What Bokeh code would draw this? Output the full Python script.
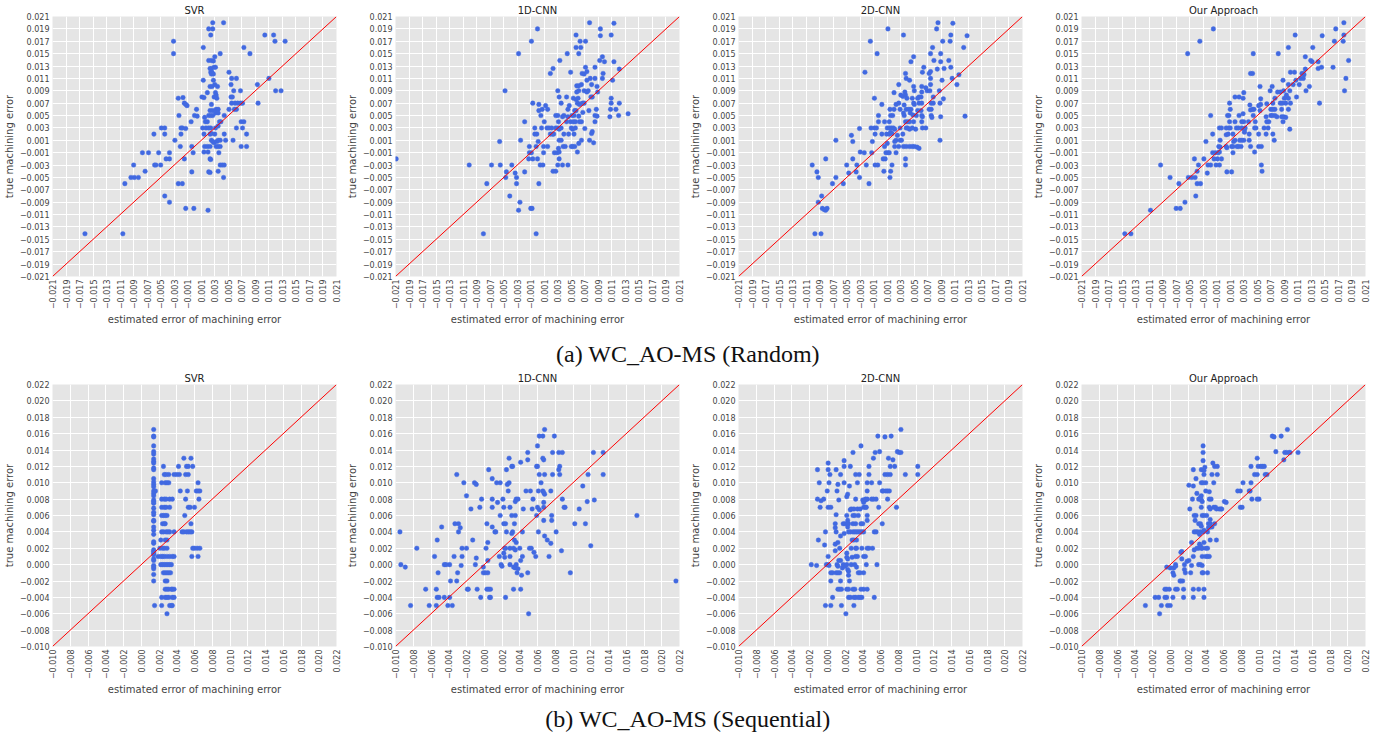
import math
from bokeh.plotting import figure
from bokeh.models import Range1d, FixedTicker, CustomJSTickFormatter, Slope, Label
from bokeh.layouts import column, row
from bokeh.embed import file_html
from bokeh.resources import INLINE

# ---------------- data (values in units of 0.001) ----------------
MILLI = 0.001

titles = ["SVR", "1D-CNN", "2D-CNN", "Our Approach"]
caption_a = "(a) WC_AO-MS (Random)"
caption_b = "(b) WC_AO-MS (Sequential)"
x_label = "estimated error of machining error"
y_label = "true machining error"

ticks_random = [-0.021, -0.019, -0.017, -0.015, -0.013, -0.011, -0.009, -0.007, -0.005, -0.003, -0.001,
                0.001, 0.003, 0.005, 0.007, 0.009, 0.011, 0.013, 0.015, 0.017, 0.019, 0.021]
ticks_seq = [-0.010, -0.008, -0.006, -0.004, -0.002, 0.000, 0.002, 0.004, 0.006, 0.008, 0.010,
             0.012, 0.014, 0.016, 0.018, 0.020, 0.022]
range_random = (-0.021, 0.021)
range_seq = (-0.010, 0.022)

svr_random = [
    (2.7,20),(4.3,20),(2.1,19),(2.7,19),(2.4,18),(10.4,18),(11.7,18),(11.9,17),(13.4,17),(-3.1,17),
    (-3.1,15),(1.3,16),(3.8,15),(7.3,16),(8.2,15),(2.1,13.9),(2.5,13.9),(2.8,13.8),(3.0,14.5),
    (2.3,12.6),(2.5,12.6),(2.9,12.8),(3.1,12.8),(2.4,12),(2.5,11.7),(2.6,12),(2.8,11.7),(5.1,12),
    (5.5,11),(6.2,11),(1.3,10.7),(2.8,10.7),(2.3,9.7),(2.6,9.7),(3.4,9.7),(3.0,10),(5.4,10),
    (5.8,9),(6.8,9),(1.9,8.7),(3.1,8.7),(3.2,8.3),(1.1,8),(1.4,7.9),(2.9,8),(3.3,7.8),
    (9.3,10),(11,11),(12,9),(12.8,9),(9.4,7),(5.4,8),(5.6,8),(5.5,7),(6.0,7),(6.4,7),(6.8,7),(7.1,7),
    (2.5,6.8),(2.3,5.8),(2.7,5.8),(3.2,6),(3.5,6),(3.1,5.4),(3.5,5.4),(0.3,6),(-1.3,6.8),(-1.1,6.6),
    (-2.4,7.8),(-1.7,7.9),(-1.5,7.0),(-2.3,5),(-0.5,4),(0,5),(0.4,4.9),(1.5,4.7),(2.1,5),(2.4,5),(2.7,5),
    (4.4,5),(5.1,6),(5.9,6),(6.2,6),(1.6,4),(1.9,4),(3.7,4),(3.9,4),(6.9,4),(7.3,4),
    (-2.0,3),(-1.8,3),(-1.3,2.9),(-4.9,3),(-4.4,3),(-6,2),(-4.4,2),(-2.0,2),
    (1.2,3),(1.7,3),(2.1,3),(2.4,3),(3.1,3),(3.5,3.3),(1.4,2),(2.3,2),(2.5,2.1),(3,2),(4.4,2),
    (6.2,3),(7.1,3),(7.7,2),(5.7,1),(-2.9,1),(-2.1,0),(-0.4,0),(1.5,0),(1.9,0),(2.3,0),(2.5,1),(2.7,0.8),(2.9,0.6),
    (3.3,0.8),(3.5,1),(3.8,1),(3.2,0),(3.5,0),(3.8,0),(4.6,1),(6.9,0),(7.7,0),
    (-7.7,-1),(-6.8,-1),(-5.3,-1),(-3.7,-1),(-0.2,-1),(1.4,-0.9),(2.0,-0.9),(3.6,-1),
    (-9,-3),(-5.9,-3),(-5.7,-3),(-5,-3),(-4.2,-2),(-3.7,-2),(-1.5,-2),(2.3,-2),(2.4,-2.1),
    (3.8,-3),(4.1,-3),(4.4,-3),(-7.3,-4),(-9.4,-5),(-8.9,-5),(-8.3,-5),(-10.3,-6),
    (-0.4,-4.1),(2.1,-4.1),(2.3,-4.2),(3.5,-4),(4.3,-5),(-2.4,-6),(-1.8,-6),(-4.4,-8),(-3.7,-9),
    (-1.3,-10),(-0.1,-10),(2.0,-10.3),(-16.2,-14.1),(-10.6,-14.1),
]

cnn1d_random = [
    (7.7,20),(11.3,19.9),(0,19),(9.3,19),(5.7,18),(9.3,17.9),(10.9,18),(-0.9,17),(6.3,17),(7.1,17),
    (5.7,16),(6.4,16),(-2.8,15),(4.4,15),(6.1,15),(3.3,13.9),(9.2,13.9),(9.6,14.5),(9.9,13.7),(11.3,13.7),
    (2.3,12.6),(7.1,12.8),(7.3,12.1),(8.5,12.8),(4.9,12),(12.1,12.5),(1.9,11.8),(6.6,11.8),(6.9,11.7),(7.3,10.7),
    (7.8,11),(8.5,11),(9.6,11),(9.7,11.8),(11.1,10.7),(5.8,9.8),(6.1,9.8),(6.5,10),(8.0,10),(8.8,9.7),(8.9,8.8),
    (-4.8,9),(3.0,9),(5.8,8.8),(6.1,9),(6.9,9),(7.3,8.8),(7.5,9),(3.2,8),(4.3,8),(5.3,7.8),(5.7,7.6),(6,7.8),
    (7.9,8),(8.1,8),(10.9,7.8),(-0.7,7),(0.2,6.8),(1.2,6.6),(3.5,7),(4.7,6.6),(5.9,7),(6.2,6.8),(6.4,6.9),(6.7,7),(6.9,7),
    (7.6,5.8),(8.7,6),(10.9,7),(12.1,7),(0.2,5.8),(0.7,6),(1.5,6),(4.5,6),(5.5,5.8),(5.7,5.8),(6.7,5.5),(10.8,6),(11.6,6),
    (0.5,5),(2.7,5),(3.0,5),(3.7,4.8),(3.9,5),(4.5,4.8),(5.1,5),(5.4,5),(6.1,4.9),(8.5,5),(8.8,4.9),(10.7,4.8),(12.0,5),(13.4,5.3),
    (-1.9,4),(1.0,4),(3.1,4),(4.3,4),(4.9,4),(5.3,4),(5.6,4),(6.2,4),(6.5,4),(8.5,4),
    (-0.4,3),(0.6,3),(1.4,3),(1.7,3),(2.1,3),(2.7,3),(3.0,3),(3.2,2.8),(3.5,3),(5.0,3),(5.2,2.8),(5.6,3),(7.0,2.9),
    (-0.4,2),(-0.1,2),(1.9,2),(2.2,2),(2.4,2),(3.9,2),(4.6,2),(5.4,2),(8.0,2.1),(8.1,2.4),
    (-2.5,1),(0.1,0.8),(3.2,1),(3.5,1),(6.1,0.5),(6.5,1),(7.7,1),(8.3,0.6),(-5.6,0.8),
    (-1.2,0),(-0.2,0),(0.9,0),(1.5,0),(3.8,0),(4.1,0),(5.0,0),(5.2,0),(5.5,0),
    (-1.2,-1),(-0.9,-1),(0.9,-1),(2.5,-1),(2.9,-1),(3.2,-0.9),(3.1,-0.3),(5.9,-0.9),
    (-20.9,-2),(-1.3,-2),(-0.7,-2),(0,-2),(3.2,-2),
    (-10.1,-3),(-6.8,-3),(-5.5,-3),(-3.8,-3),(0.4,-3),(0.8,-3),(3.0,-3),(3.7,-3),(4.5,-3),
    (-4.6,-4.1),(-3.3,-4.3),(-1.9,-4.1),(2.3,-4),(2.7,-4),(-4.7,-5),(-3.1,-5),(-7.5,-6),(-3.1,-6),(0.2,-6),
    (-4.1,-8),(-2.6,-9),(-1.0,-10),(-0.8,-10),(-2.8,-10.3),(-8,-14.1),(-0.2,-14.1),
]

cnn2d_random = [
    (8.5,20),(10.7,19.9),(1.1,19),(8.3,19),(3.4,18),(10.4,18),(12.8,17.9),(-1.5,17),(9.2,17),(10.3,17),
    (7.7,16),(12.3,16),(-0.5,15),(7.4,15),(8.9,15),(4.9,14.5),(4.5,13.7),(7.9,13.9),(8.9,13.7),(10.1,13.9),
    (6.4,12.8),(8.4,12.5),(9.4,12.6),(10.4,12.8),(-2.3,12),(6.2,12),(7.2,11.8),(7.4,12.1),(11.6,11.6),
    (3.7,11.8),(3.8,11),(7.4,11),(10.6,11),(4.3,10.7),(9.1,10.7),(11.3,10),(2.7,10),(7.4,10),(6.1,9.7),(4.9,9.7),(6.7,9.5),
    (-0.9,7.8),(2.0,8.7),(3.0,8.3),(3.3,8.1),(3.6,8.8),(3.7,8.3),(5.0,9),(6.1,8.8),(6.9,9),(7.3,9),(8.7,9),(9.3,7.7),
    (4.7,7.8),(5.5,7.8),(5.7,8),(6.0,8),(7.8,8),(3.9,7.8),
    (0.2,6.8),(2.3,6.8),(2.7,7),(3.5,6.7),(4.9,7),(5.0,6.8),(5.7,7),(6.1,7),(7.5,7),(7.8,7),(8.8,7),
    (1.4,6),(2.0,6),(2.9,6),(3.8,6),(4.2,6),(4.5,6),(5.5,5.8),(6.0,5.8),(7.2,6),(7.5,6),
    (-0.3,5),(1.5,5),(1.8,5),(3.4,5.4),(3.5,5),(4.4,5.4),(4.8,5.1),(5.3,5),(6.1,5),(6.2,4.8),(7.5,5),(7.6,4.7),(8.9,4.8),(12.5,4.9),
    (-0.3,4),(0.6,4),(1.3,4),(3.7,4),(4.0,4),(4.3,4),(4.9,4),(6.1,4),
    (-3.1,2.9),(-1.4,3),(-0.9,3),(-0.6,3),(1.0,3),(1.3,3),(1.6,3),(1.9,3),(2.1,2.8),(2.9,3),(3.8,3),(4.0,3),(4.3,2.8),(4.7,3),(5.2,2.8),(6.2,3),(6.7,3),
    (-0.8,2),(0.2,2),(0.9,2),(1.3,2),(1.5,2.3),(1.7,2.1),(2.5,1.8),(3.3,2),
    (-4.3,1.8),(-4.1,0.8),(-6.6,1),(-1.2,0.8),(1.0,0.5),(2.1,0.8),(2.3,1),(2.9,1),(3.1,1),(8.8,1),
    (0.6,0),(2.1,0),(2.7,0),(3.4,0),(3.8,0),(4.3,0),(4.7,0),(5.0,0),(5.4,-0.1),(5.7,-0.3),
    (-3.0,-0.9),(-2.4,-1),(-1.3,-1),(0.8,-1),(1.1,-1),(1.3,-1),(2.3,-1),
    (-8.1,-2),(-4.1,-2),(0.4,-2),(0.7,-2),(3.7,-2),
    (-10.1,-3),(-5.0,-3),(-3.5,-3),(-2.1,-3),(-0.8,-3),(-0.4,-3),(1.7,-3),(3.7,-3),
    (-9.4,-4.1),(-4.7,-4.3),(-3.6,-4.1),(0.5,-4),(1.5,-4),(-9.2,-5),(-6.6,-5),(-3.1,-5),(1.4,-5),
    (-7.1,-6),(-5.5,-6),(-1.7,-6),(-8.7,-8),(-9.2,-9),(-8.6,-10),(-8.3,-10.2),(-8.1,-10.3),(-7.9,-10),(-9.7,-14.1),(-8.8,-14.1),
]

ours_random = [
    (17.8,20),(-1.5,19),(16.6,19),(10.6,18),(14.6,17.9),(17.8,18),(-3.5,17),(16.4,17),(17.7,17),(9.6,16),(13.2,16),
    (-5.3,15),(4.4,15),(8.1,15),(12.1,14.5),(12.9,13.9),(13.1,13.7),(14.0,13.7),(18.5,13.9),
    (12.1,12.5),(14.0,12.6),(14.5,12.8),(16.2,12.8),(4.0,11.8),(4.3,11.8),(9.9,12),(10.5,12),(11.6,11.8),(11.8,11.8),(11.9,11.6),
    (11.4,11),(11.8,11),(10.7,10.7),(8.8,10.7),(18.1,11),(11.2,10),(9.6,10),(10.3,10),(5.4,9.7),(7.2,9.7),(12.7,9.7),
    (3.0,8.7),(6.9,9),(8.0,8.8),(8.4,8.8),(8.9,9),(9.8,9),(12.2,9),(17.9,9),
    (1.7,8),(2.3,8),(2.9,7.8),(5.5,7.7),(7.6,7.8),(9.0,7.8),(9.3,8),(9.6,7.8),(10.8,8),(9.3,8.3),
    (0.9,7),(3.9,6.7),(5.2,6.6),(5.5,6.8),(6.4,6.9),(7.3,7),(8.4,7),(8.7,7),(9.2,7),(9.9,7),(14.2,7),
    (1.0,6),(4.0,5.9),(4.3,6),(4.5,6),(5.4,5.8),(7.0,6),(7.3,6),(7.6,6),(8.6,6),(9.6,6),
    (-1.9,5),(0.6,5),(0.8,5),(2.3,5),(2.9,5.3),(4.4,5),(6.3,4.8),(7.0,5),(7.2,5),(7.6,5),(7.9,4.8),(8.6,4.8),(8.9,4.8),(9.2,4.7),
    (0.9,4),(1.7,4),(2.7,4),(3.0,4),(3.7,4),(4.7,4),(6.4,4),(6.7,4),(8.8,4),
    (-0.6,3),(-0.3,3),(0.4,3),(0.8,3),(1.0,3),(1.9,3),(2.2,3),(2.7,3),(3.1,2.7),(3.2,3),(4.6,3),(4.8,3),(6.0,3),(6.6,3),(9.8,2.8),
    (-1.6,2),(0.4,1.9),(0.7,2),(1.4,2),(3.1,2.3),(3.8,2),(5.2,2),(6.3,2),(7.3,2),
    (-2.6,0.8),(-0.5,1),(1.5,0.8),(1.7,1),(2.4,1),(2.7,1),(3.0,1),(3.8,1),(7.5,1),
    (-0.7,0),(-0.5,-0.1),(0.4,0),(1.2,0),(1.4,0),(2.0,0),(2.2,0),(2.6,0),(4.0,0),(5.2,0),(5.6,0),(0.5,-0.2),
    (-1.6,-1),(-1.2,-1),(-0.8,-1),(-0.6,-0.9),(1.4,-1),(4.6,-0.9),
    (-4.3,-2),(-2.9,-2),(-1.4,-2),(-0.9,-2),(-0.3,-2),
    (-9.3,-3),(-3.7,-3),(-2.3,-3),(-1.9,-3),(-1.1,-3),(-0.6,-3),(5.6,-3),
    (-3.9,-4),(-2.4,-4.3),(0.5,-4.1),(1.2,-4.1),(5.7,-4),
    (-7.9,-5),(-5.2,-5),(-4.7,-5),(-4.2,-5),(-6.6,-6),(-3.9,-6),(-3.4,-6),(-4.1,-8),(-5.7,-9),
    (-7.0,-10),(-6.4,-10),(-10.8,-10.3),(-14.6,-14.1),(-13.7,-14.1),
]

svr_seq = [
    (1.4,16.5),(1.4,15.7),(1.4,15.6),(1.4,14.5),(1.4,13.8),(1.4,13.5),(1.4,12.9),(1.4,12.6),(1.4,12.4),
    (1.4,11.8),(1.4,11.6),(1.4,10.5),(1.4,10.1),(1.4,9.8),(1.4,9.5),(1.4,9.0),(1.6,9.0),(1.4,8.7),(1.4,8.4),
    (1.4,7.9),(1.4,7.7),(1.4,7.5),(1.4,6.9),(1.4,6.4),(1.4,6.1),(1.4,5.4),(1.4,5.3),(1.4,4.6),(1.4,4.2),
    (1.4,3.7),(1.4,2.8),(1.4,2.6),(1.4,1.8),(1.4,1.6),(1.4,1.4),(1.4,1.2),(1.4,0.7),(1.4,0.5),(1.4,-0.1),
    (1.4,-0.3),(1.4,-0.5),(1.4,-1.2),(1.4,-2.0),(1.5,-5.0),
    (2.5,12),(2.3,10),(2.7,10),(2.9,10),(3.1,10),(2.6,11),(2.8,11),(3.1,11),
    (3.7,11),(4.0,11),(4.3,11),(5.0,11),(5.3,11),(4.2,12),(5.1,12),(5.3,12),(5.8,12),(4.8,13),(5.6,13),
    (2.3,8),(2.6,8),(2.8,8),(3.2,8),(3.5,8),(4.4,9),(5.2,9),(6.2,9),(6.4,9),(6.6,9),(5.0,8),(6.5,8),(6.4,10),
    (2.3,7),(2.6,7),(2.8,7),(3.2,7),(5.3,7),(5.5,7),(6.0,7),
    (2.3,6),(2.5,6),(2.7,6),(2.9,6),(4.9,6),(2.4,5),(2.6,5),(2.7,5),(5.6,5),
    (2.3,4),(2.5,4),(2.8,4),(3.0,4),(3.2,4),(3.7,4),(4.6,4),(4.8,4),(5.1,4),(5.3,4),(5.5,4),(5.7,4),
    (2.2,3),(2.7,3),(2.9,3),(2.1,2),(2.4,2),(2.6,2),(2.9,2),(5.8,2),(6.0,2),(6.3,2),(6.6,2),
    (1.9,1),(2.2,1),(2.4,1),(2.6,1),(2.9,1),(3.2,1),(3.5,1),(3.7,1),(5.7,1),(6.4,1),
    (2.2,0),(2.4,0),(2.6,0),(2.8,0),(3.0,0),(3.2,0),(3.4,0),
    (2.5,-1),(2.7,-1),(2.9,-1),(3.1,-1),(3.3,-1),(2.7,-2),(2.9,-2),
    (2.7,-3),(2.9,-3),(3.1,-3),(3.4,-3),(3.5,-3),(3.7,-3),
    (2.3,-4),(2.7,-4),(2.9,-4),(3.1,-4),(3.5,-4),(3.7,-4),
    (2.3,-5),(3.2,-5),(3.4,-5),(3.5,-5),(2.9,-6),
]

cnn1d_seq = [
    (-9.5,4),(-9.4,0),(-8.9,-0.3),(-8.3,-5),(-7.6,2),(-6.6,-3),(-6.2,-5),
    (-5.6,1),(-5.4,-3),(-5.3,3),(-5.2,-1),(-5.3,-4),(-5.1,-4),(-5.4,-5),
    (-4.8,4.6),(-4.5,0),(-4.3,0),(-4.5,-4),(-4.1,-5),(-3.9,0),(-3.8,-2),(-3.9,-4),(-3.6,-5),(-3.4,1),
    (-3.3,5),(-2.9,5),(-3.1,11),(-3.1,-2),(-3.0,-1),(-2.9,4),(-2.7,4.5),(-2.5,2),(-2.5,1),(-2.6,-0.1),
    (-2.3,10),(-2.0,8.4),(-2.0,2),(-1.9,-3),(-1.8,-3),(-1.5,6.8),(-1.3,3.0),
    (-1.1,10),(-0.9,9.8),(-1.0,0),(-0.9,0.8),(-0.8,-3),(-0.5,7),(-0.4,-4),(-0.3,8),(-0.1,-0.3),(-0.1,-1),(0.1,-1),
    (0.2,2),(0.3,5),(0.4,-1),(0.3,-3),(0.5,-3),(0.7,-3),(0.4,2.7),(0.4,0.5),(0.5,11.6),(0.6,-4),(0.7,-4),
    (0.9,7),(0.9,8),(0.9,10.5),(0.9,4.6),(1.2,4),(1.3,4),(1.4,10),(1.5,7.6),(1.7,1),(1.8,10),(1.8,6),(1.9,0),(2.0,-0.2),
    (2.1,8),(2.2,7),(2.2,5),(2.4,5),(2.3,2),(2.4,2),(2.2,1.4),(2.3,0.9),(2.5,11.6),(2.5,4),(2.4,-4),
    (2.6,9.8),(2.8,10),(2.7,9),(2.8,13),(2.9,7),(2.9,2),(2.9,1),(2.9,0),(3.1,3.8),(3.2,4),
    (3.1,12),(3.2,12),(3.1,6),(3.3,-3),(3.3,-0.3),(3.5,-0.4),(3.3,2),(3.4,3),(3.4,5),(3.5,7.7),(3.6,8),(3.8,8),
    (3.5,6),(3.6,0),(3.7,-1),(3.6,2.7),(3.5,1.8),(3.8,-0.5),(4.0,2),
    (4.1,12.5),(4.1,-3),(4.1,0.5),(4.2,-1.3),(4.3,1),(4.3,4),(4.4,6.8),
    (4.7,9),(4.9,13.7),(4.9,12.8),(4.9,-1),(5.1,2),(5.3,2),(5.0,-6),(5.2,9),(5.4,6.8),(5.5,8),(5.6,1.5),(5.8,1),
    (5.9,12),(6.0,12),(5.9,6),(6.0,7),(6.0,14.5),(6.1,9),(6.2,15.7),(6.2,11),(6.1,4),(6.2,6.7),(6.4,10),
    (6.6,15.7),(6.6,9),(6.7,8.8),(6.7,7.6),(6.7,7),(6.7,5.4),(6.6,13),(6.7,12.8),(6.8,16.5),(6.8,11),(6.8,3.5),(6.8,8.6),
    (7.1,3),(7.5,2.6),(7.3,1),(7.5,9),(7.6,6),(7.6,5.4),(7.7,13.7),(7.7,11),(7.9,15.7),(8.1,4),
    (8.4,11.6),(8.4,13.7),(8.8,13.7),(8.5,12),(8.5,11),(8.7,1.7),(8.8,8),(9.0,7),(9.1,7),
    (9.7,-1),(10.2,5),(10.7,6.8),(11.1,9.6),(11.4,5),(11.6,7.7),(11.7,11),(12.0,2.3),(12.3,13.7),(12.4,7.9),
    (13.4,11),(13.4,13.7),(17.2,6),(21.6,-2),
]

cnn2d_seq = [
    (-1.8,0),(-1.2,-0.1),(-1.1,11.6),(-1.1,8),(-1.0,3),(-0.9,10),(-0.8,7),(-0.7,7.8),(-0.4,8),(-0.3,2.4),(-0.2,4),(-0.2,-5),
    (-0.1,0),(0.1,0),(0.0,9),(0.1,12.4),(0.1,1),(0.1,7),(0.4,7),(0.1,11.6),(0.2,10),(0.3,11),(0.2,-0.1),
    (0.4,-2),(0.4,-1),(0.6,-1),(0.4,-5),(0.6,-4),
    (0.9,2.5),(0.9,5),(0.9,4.5),(1.0,4),(0.9,1.7),(1.0,-1),(1.2,-1),(1.4,-1),(1.0,11.6),(1.1,9),(1.0,6.1),(1.2,-0.2),
    (1.2,9.8),(1.3,7.9),(1.2,-3),(1.4,-3),(1.6,-3),(1.2,2.7),(1.3,0.5),(1.1,0),(1.4,2),(1.5,11),(1.5,0.5),(1.5,3.5),
    (1.5,-2),(1.6,-5),(1.7,-0.4),(1.8,5),(2.0,5),(1.8,0),(1.9,10),(1.9,12.7),(1.9,3.8),(1.9,12),(2.0,-0.2),(2.2,0),
    (2.2,8.3),(2.3,8.6),(2.2,1.4),
    (2.1,-6),(2.2,-3),(2.4,-3),(2.2,6),(2.3,5.4),(2.3,5),(2.4,5),(2.3,4.6),(2.2,0.9),(2.3,0.7),(2.3,-0.6),(2.4,-0.8),
    (2.4,-1.3),(2.4,-4),(2.6,-4),(2.5,-2),(2.4,4),(2.6,4),(2.5,9.6),(2.6,12),(2.6,6.7),(2.7,6.8),(2.7,0),(2.7,2),
    (2.8,3),(3.0,3),(2.9,13.7),
    (2.8,0.9),(2.9,-3),(3.1,-3),(2.9,4),(3.1,4),(2.9,6),(3.1,6),(2.9,5),(3.2,5),(3.0,6.8),(3.0,-4),(3.2,-4),(3.0,-5),
    (3.1,0),(3.2,2),(3.3,2),(3.2,11),(3.6,11),(3.2,8),(3.2,1),(3.4,1),(3.3,-0.3),(3.3,3),(3.3,4),(3.5,4),(3.7,4),
    (3.4,10),(3.4,6.8),(3.7,6.8),(3.5,6),(3.5,-1),(3.7,-1),(3.5,-4),(3.7,-4),(3.9,-4),(3.8,14.5),(3.8,-3),(3.8,5),(4.0,5),
    (3.9,2),(3.9,4),(4.1,4),(4.0,7.9),(4.1,7),(4.3,7),(4.1,-1),(4.1,1),(4.3,1),(4.1,-3),(4.1,7.6),(4.3,7.9),(4.3,8),(4.5,8),
    (4.4,7),(4.4,0),(4.5,6),(4.5,5.4),(4.5,2),(4.7,2),(4.5,-3),(4.5,9),(4.5,10),(4.7,12),(4.7,11),(5.0,8),(5.2,8),(5.1,2),
    (5.0,10),(5.2,13),(5.3,4),(5.5,4),(5.3,-4),(5.4,13.7),(5.5,8),(5.6,0),(5.7,15.7),(5.8,7),(5.9,10),(5.9,13.8),
    (6.2,9),(6.3,9),(6.2,5),(6.5,11),(6.8,11),(6.5,15.6),(6.6,9),(6.8,9),(7.0,9),(6.8,8),(6.9,13),(7.1,12),(7.1,11),
    (7.2,15.7),(7.4,12.8),(7.6,12),(7.8,7),(7.9,13.8),(8.1,13.7),(8.3,13.7),(8.3,16.5),(8.8,11),(10.2,12),(10.2,11),
]

ours_seq = [
    (-2.8,-5),(-1.7,-4),(-1.3,-4),(-1.2,-6),(-1.0,-5),
    (-0.6,-3),(-0.4,-3),(-0.1,-3),(-0.6,-4),(-0.4,-4),(-0.3,-5),(0.0,-5),(-0.4,-0.3),(0.0,-0.4),(0.3,-4),
    (0.3,-1),(0.4,-1.3),(0.4,-0.4),(0.6,-0.2),(0.6,-3),(0.8,-3),(0.6,0),
    (1.1,-2),(1.2,-2),(1.4,-2),(1.2,1.5),(1.3,1.6),(1.3,0.7),(1.5,-3),(1.5,-4),(1.6,0),(1.6,-0.6),(1.7,-1),
    (1.9,0.4),(2.1,0.5),(2.1,9.7),(2.2,6.8),(2.3,-1),(2.4,2.7),(2.4,-0.1),(2.5,8),(2.6,-4),(2.6,-3),(2.6,1),
    (2.6,9.6),(2.6,11.6),(2.7,6),(2.9,6),(2.7,1.8),(2.7,4),(2.9,4),(2.8,5.4),(2.9,10.5),(3.0,2),(3.2,2),(3.0,8.7),
    (3.1,4),(3.4,4),(3.2,8),(3.4,8.2),(3.2,0),(3.4,0),(3.2,-3),(3.2,5),(3.4,5),(3.3,2.5),(3.4,2.3),(3.3,3.7),
    (3.5,2),(3.6,2),(3.5,10),(3.7,10),(3.5,8.4),(3.5,7.9),(3.6,7.7),(3.5,7),(3.5,11.6),(3.5,4.7),(3.6,1),(3.6,-1),
    (3.7,-1),(3.6,-0.1),(3.6,6),(3.8,6),(3.7,12.7),(3.7,14.5),(3.7,13.7),(3.7,4),(3.8,4.2),(3.8,-3),(3.8,-4),(3.8,2.7),
    (3.8,11.5),(3.8,11),(3.9,11.9),(4.0,2),(4.0,9),(4.0,1),(4.2,1),(4.4,1),(4.0,10),(4.1,6),(4.2,4),(4.2,2),(4.2,-1),
    (4.3,4.5),(4.3,5),(4.5,5),(4.4,8.9),(4.4,7),(4.5,6.8),(4.4,8),(4.6,8),(4.5,5.5),(4.5,3),(4.5,4.6),(4.7,4.6),
    (4.7,11),(4.8,12.4),(4.9,10),(4.9,7),(5.0,5),(5.0,12),(5.1,7),(5.2,3),(5.3,11),(5.3,12),(5.2,6.8),(5.5,6.8),
    (5.7,6.8),(5.8,6.8),(6.1,7.7),(6.3,7.6),(7.6,9),(7.9,9),(7.9,7),(8.1,7),(8.2,10),(8.9,9),(9.0,9),(9.1,10),(9.1,12),
    (9.2,8),(9.5,11),(9.8,11),(9.8,13),(9.8,8),(10.0,8),(9.9,12),(10.2,12),(10.4,12),(10.6,12),(10.7,11),(10.9,11),
    (11.5,15.7),(11.7,15.6),(11.9,13.8),(12.5,15.7),(12.8,12.8),(12.9,13.7),(13.1,13.7),(13.4,13.7),(13.5,13.7),
    (13.2,16.5),(14.4,13.7),
]

# ---------------- styling ----------------
FONT = "DejaVu Sans"
BG = "#E5E5E5"
DOT = "#4169E1"
TXT = "#444444"
FRAME_W = 284
BORDER_L = 46
BORDER_R = 7
BORDER_B = 50
CAPTION_W = 1375

fmt_code = """
const a = Math.abs(tick) < 1e-9 ? 0 : tick;
const s = Math.abs(a).toFixed(3);
return (a < 0 ? "\\u2212" : "") + s;
"""


def panel(title, pts, ticks, rng, frame_h, border_t):
    xs = [p[0] * MILLI for p in pts]
    ys = [p[1] * MILLI for p in pts]
    p = figure(title=title, x_range=Range1d(*rng), y_range=Range1d(*rng),
               frame_width=FRAME_W, frame_height=frame_h,
               output_backend="svg", toolbar_location=None,
               min_border_left=BORDER_L, min_border_right=BORDER_R,
               min_border_top=border_t, min_border_bottom=BORDER_B,
               background_fill_color=BG, border_fill_color="white", outline_line_color=None)
    p.title.align = "center"
    p.title.text_font = FONT
    p.title.text_font_size = "10px"
    p.title.text_font_style = "normal"
    p.title.text_color = "#222222"
    p.title.standoff = 1
    p.title.offset = 0
    for ax in (p.xaxis[0], p.yaxis[0]):
        ax.ticker = FixedTicker(ticks=ticks)
        ax.formatter = CustomJSTickFormatter(code=fmt_code)
        ax.axis_line_color = None
        ax.major_tick_line_color = None
        ax.minor_tick_line_color = None
        ax.major_tick_out = 0
        ax.major_tick_in = 0
        ax.minor_tick_out = 0
        ax.minor_tick_in = 0
        ax.major_label_text_font = FONT
        ax.major_label_text_font_size = "8px"
        ax.major_label_text_color = TXT
        ax.major_label_standoff = 3
        ax.axis_label_text_font = FONT
        ax.axis_label_text_font_size = "10px"
        ax.axis_label_text_font_style = "normal"
        ax.axis_label_text_color = TXT
        ax.axis_label_standoff = 2
    p.xaxis.axis_label = x_label
    p.yaxis.axis_label = y_label
    p.xaxis.major_label_orientation = math.pi / 2
    p.xgrid.grid_line_color = "white"
    p.ygrid.grid_line_color = "white"
    p.xgrid.grid_line_width = 1
    p.ygrid.grid_line_width = 1
    p.scatter(xs, ys, size=4.6, fill_color=DOT, line_color=DOT, line_width=0.4)
    p.add_layout(Slope(gradient=1, y_intercept=0, line_color="red", line_width=1))
    return p


def caption(text, h, ypos):
    c = figure(width=CAPTION_W, height=h, x_range=Range1d(0, 1), y_range=Range1d(0, 1),
               x_axis_type=None, y_axis_type=None, output_backend="svg", toolbar_location=None,
               min_border=0, outline_line_color=None, background_fill_color="white",
               border_fill_color="white")
    c.xgrid.visible = False
    c.ygrid.visible = False
    c.add_layout(Label(x=0.5, y=ypos, text=text, text_align="center", text_baseline="middle",
                       text_font="Liberation Serif", text_font_size="24px", text_color="#111111"))
    return c


random_sets = [svr_random, cnn1d_random, cnn2d_random, ours_random]
seq_sets = [svr_seq, cnn1d_seq, cnn2d_seq, ours_seq]

row_a = row(*[panel(t, d, ticks_random, range_random, 260, 16) for t, d in zip(titles, random_sets)])
row_b = row(*[panel(t, d, ticks_seq, range_seq, 262, 10) for t, d in zip(titles, seq_sets)])

layout = column(row_a, caption(caption_a, 42, 0.4), row_b, caption(caption_b, 38, 0.45))

open("out.html", "w").write(file_html(layout, INLINE))
